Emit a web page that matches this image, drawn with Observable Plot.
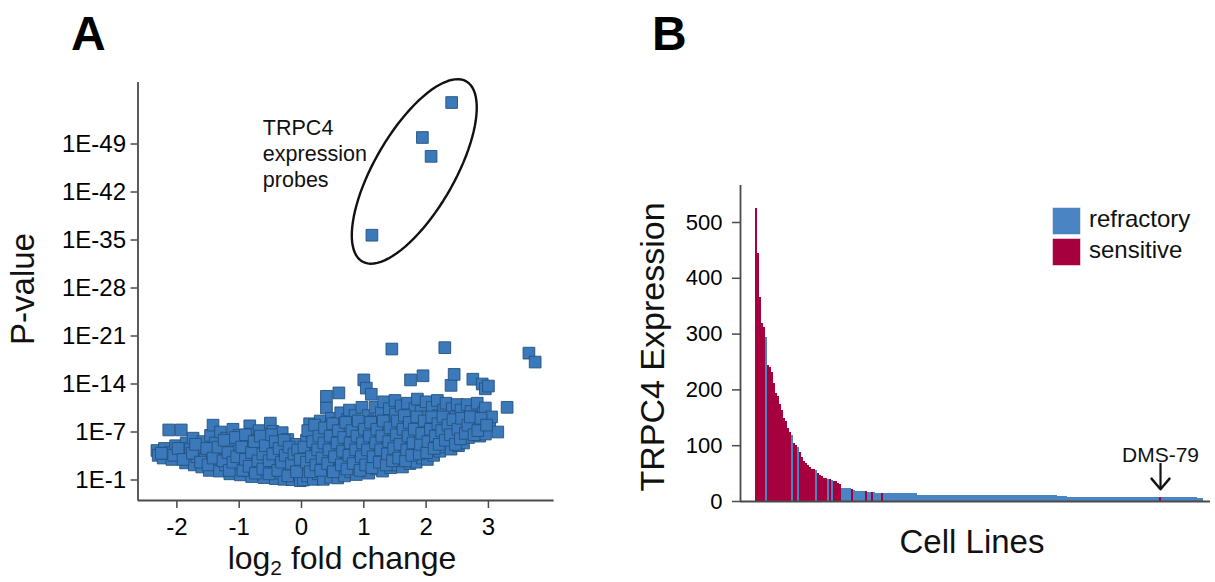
<!DOCTYPE html>
<html>
<head>
<meta charset="utf-8">
<script src="https://cdn.jsdelivr.net/npm/d3@7"></script>
<script src="https://cdn.jsdelivr.net/npm/@observablehq/plot@0.6"></script>
<style>
  html, body { margin: 0; padding: 0; background: #fff; }
  #wrap { position: relative; width: 1215px; height: 582px; overflow: hidden; }
  #wrap > svg { position: absolute; top: 0; }
</style>
</head>
<body>
<div id="wrap"></div>
<script>
// ---------------- DATA ----------------
// Panel A: volcano plot (log2 fold change, position on the P-value axis)
const foldTicks = [-2, -1, 0, 1, 2, 3];
const pTickPos = [0, 7, 14, 21, 28, 35, 42, 49];
const pTickLabels = ["1E-1", "1E-7", "1E-14", "1E-21", "1E-28", "1E-35", "1E-42", "1E-49"];

const probes = [
  [-2.32,4.3],[-2.30,3.6],[-2.22,3.2],[-2.20,4.6],[-2.18,3.9],
  [-2.13,7.3],[-2.10,4.0],[-2.08,3.0],[-2.02,5.0],[-1.93,7.3],[-1.95,4.2],[-1.86,2.5],[-1.85,5.4],[-1.80,3.5],[-1.78,4.6],
  [-1.74,6.1],[-1.72,2.2],[-1.68,3.4],[-1.65,4.8],[-1.60,1.9],[-1.58,5.6],[-1.55,3.0],
  [-1.48,1.4],[-1.46,6.5],[-1.45,4.2],[-1.42,8.0],[-1.40,2.6],[-1.38,5.4],[-1.35,3.6],[-1.32,1.3],[-1.30,7.0],[-1.28,4.6],
  [-1.22,2.2],[-1.20,6.1],[-1.15,0.9],[-1.13,3.2],[-1.10,7.4],[-1.08,5.2],[-1.05,1.8],[-1.02,4.2],[-1.00,6.5],[-0.98,0.75],[-0.95,2.8],[-0.92,5.6],
  [-0.88,3.8],[-0.86,1.4],[-0.83,7.9],[-0.82,6.7],[-0.80,0.5],[-0.78,4.8],[-0.76,2.4],[-0.72,5.8],[-0.70,3.4],[-0.68,7.2],[-0.66,1.2],[-0.64,4.4],
  [-0.60,0.35],[-0.58,2.2],[-0.56,6.2],[-0.54,3.2],[-0.50,8.3],[-0.50,5.1],[-0.48,1.2],[-0.46,7.1],[-0.44,4.2],[-0.42,0.2],[-0.40,2.4],[-0.38,6.0],
  [-0.35,3.4],[-0.33,1.0],[-0.31,6.9],[-0.30,5.0],[-0.28,0.1],[-0.26,2.0],[-0.24,4.2],[-0.22,5.9],[-0.20,1.0],[-0.18,3.0],[-0.15,0.05],[-0.13,4.8],
  [-0.10,2.0],[-0.08,5.2],[-0.06,3.6],[-0.04,0.8],[-0.02,-0.1],[0.00,2.4],[0.00,4.3],
  [0.03,0.0],[0.05,1.8],[0.06,3.8],[0.08,5.8],[0.10,0.6],[0.12,2.8],[0.13,8.2],[0.15,4.7],[0.17,6.9],[0.19,0.1],[0.20,1.8],
  [0.22,3.6],[0.24,7.8],[0.25,5.4],[0.27,0.9],[0.29,2.7],[0.30,8.6],[0.32,4.4],[0.34,6.5],[0.35,0.1],
  [0.38,1.8],[0.40,10.5],[0.40,12.2],[0.41,3.4],[0.43,7.6],[0.45,5.2],[0.47,0.4],[0.48,9.0],[0.50,2.4],[0.52,6.4],[0.54,4.2],
  [0.56,8.3],[0.58,0.3],[0.60,12.7],[0.60,1.4],[0.62,3.0],[0.63,9.8],[0.65,5.6],[0.67,7.4],[0.69,0.6],[0.70,2.2],[0.72,4.2],
  [0.74,8.8],[0.75,6.2],[0.77,10.2],[0.79,1.2],[0.80,3.2],[0.82,5.0],[0.84,7.6],[0.86,9.4],[0.88,0.8],[0.90,2.4],[0.92,4.4],
  [0.93,6.6],[0.95,8.4],[0.97,10.6],[0.99,1.6],[1.00,14.6],[1.00,3.4],[1.02,5.6],[1.04,13.4],[1.05,7.4],[1.07,9.4],[1.08,1.0],
  [1.10,2.6],[1.12,12.5],[1.12,4.6],
  [1.14,6.6],[1.16,8.6],[1.18,10.6],[1.20,1.6],[1.22,3.6],[1.24,5.6],[1.26,7.6],[1.28,9.8],[1.30,1.3],[1.32,11.4],[1.33,2.8],
  [1.35,4.6],[1.37,6.6],[1.39,8.6],[1.41,10.4],[1.43,1.8],[1.45,19.1],[1.45,3.6],[1.47,5.6],[1.49,7.6],[1.50,11.6],[1.51,9.6],
  [1.53,2.2],[1.55,4.2],[1.57,6.4],[1.59,8.4],[1.60,10.8],[1.62,1.9],[1.64,3.4],[1.66,5.4],[1.68,7.4],[1.70,11.2],[1.72,9.4],
  [1.74,2.4],[1.75,14.6],[1.76,4.6],[1.78,6.4],[1.80,8.6],[1.82,10.4],[1.84,2.6],[1.86,11.8],[1.87,4.0],[1.88,6.0],[1.90,8.0],
  [1.92,10.0],[1.94,3.2],[1.95,15.2],[1.96,5.2],[1.98,7.2],[2.00,11.4],[2.00,9.2],
  [2.02,3.0],[2.04,4.6],[2.06,6.4],[2.08,8.4],[2.10,10.6],[2.12,3.6],[2.14,5.4],[2.16,7.4],[2.18,11.6],[2.20,9.4],[2.22,4.2],
  [2.24,6.2],[2.26,8.2],[2.28,10.2],[2.30,19.3],[2.30,4.8],[2.32,11.2],[2.34,7.0],[2.36,9.0],[2.38,5.4],[2.40,13.8],[2.40,4.5],
  [2.42,10.4],[2.44,7.8],[2.45,15.4],[2.46,6.0],[2.48,9.2],[2.50,11.0],
  [2.52,5.0],[2.54,8.2],[2.56,10.2],[2.58,6.6],[2.60,5.4],[2.62,9.0],[2.64,7.6],[2.66,11.0],[2.68,6.2],[2.70,8.4],[2.72,10.0],
  [2.74,7.0],[2.75,14.7],[2.78,9.2],[2.80,7.8],[2.82,11.2],[2.84,8.6],[2.86,6.4],[2.90,14.0],[2.92,9.8],[2.94,7.6],[2.95,13.3],
  [2.95,10.5],[2.95,6.7],[3.00,13.7],[3.02,8.6],[3.05,9.2],[3.15,7.0],[3.30,10.6],[3.65,18.5],[3.75,17.2]
];
// additional probes filling the dense core of the cloud
const probesCore = [
  [-2.25,3.9],[-2.05,3.6],[-1.98,4.6],[-1.90,3.0],[-1.75,3.9],[-1.70,5.2],[-1.62,2.6],[-1.52,4.6],[-1.50,2.2],[-1.42,3.2],
  [-1.34,4.8],[-1.26,2.8],[-1.24,5.8],[-1.18,4.0],[-1.16,1.4],[-1.10,2.6],[-1.06,6.2],[-1.04,3.4],[-0.96,4.8],[-0.94,1.4],
  [-0.90,6.6],[-0.90,3.0],[-0.84,2.0],[-0.80,4.0],[-0.76,5.6],[-0.74,1.0],[-0.70,2.8],[-0.66,6.4],[-0.62,3.8],[-0.62,1.6],
  [-0.58,5.0],[-0.52,0.9],[-0.52,2.8],[-0.48,6.6],[-0.46,3.8],[-0.42,5.6],[-0.38,1.4],[-0.36,4.6],[-0.32,2.6],[-0.28,5.8],
  [-0.26,3.6],[-0.22,0.6],[-0.20,4.8],[-0.16,2.4],[-0.12,3.8],[-0.08,1.2],[-0.06,4.4],[-0.02,3.0],
  [0.04,4.8],[0.08,2.6],[0.10,7.2],[0.14,1.2],[0.16,3.4],[0.18,5.6],[0.21,8.0],[0.23,2.2],[0.26,4.4],[0.28,6.4],
  [0.31,1.4],[0.33,3.2],[0.36,5.4],[0.37,7.6],[0.42,2.4],[0.44,4.4],[0.46,6.4],[0.50,8.2],[0.51,1.2],[0.53,3.4],
  [0.57,5.4],[0.59,7.2],[0.64,2.2],[0.66,4.2],[0.68,6.2],[0.71,8.4],[0.73,1.6],[0.76,3.6],[0.78,5.4],[0.81,7.2],
  [0.83,2.4],[0.87,4.4],[0.89,6.4],[0.91,8.6],[0.94,1.4],[0.96,3.4],[0.98,5.4],[1.01,7.4],[1.03,2.2],[1.06,4.4],
  [1.09,6.4],[1.11,8.4],[1.13,1.8],[1.15,3.4],[1.19,5.4],[1.21,7.4],[1.25,2.6],[1.27,4.4],[1.29,6.4],[1.31,8.6],
  [1.36,2.2],[1.38,3.8],[1.40,5.6],[1.42,7.6],[1.46,2.8],[1.48,4.6],[1.52,6.6],[1.54,8.6],[1.56,3.2],[1.58,5.2],
  [1.63,7.4],[1.65,9.4],[1.67,2.8],[1.69,4.4],[1.71,6.4],[1.73,8.4],[1.77,3.6],[1.79,5.4],[1.81,7.4],[1.85,9.2],
  [1.89,3.8],[1.91,5.2],[1.93,6.8],[1.97,8.6],[2.01,4.0],[2.03,5.6],[2.07,7.4],[2.09,9.2],[2.13,4.6],[2.15,6.4],
  [2.19,8.2],[2.21,5.2],[2.25,7.2],[2.27,9.2],[2.31,5.8],[2.35,8.0],[2.39,6.6],[2.43,8.8],[2.47,5.2],[2.51,7.4],
  [2.55,6.0],[2.57,9.0],[2.63,6.8],[2.67,8.0],[2.71,9.2],[2.77,6.6],[2.83,7.2],[2.88,9.0],[2.97,8.0]
];
const trpc4Probes = [[2.41,55.05],[1.94,49.95],[2.08,47.2],[1.13,35.7]];
const trpc4Label = "TRPC4\nexpression\nprobes";

// Panel B: TRPC4 expression per cell line, sorted
const expression = [
  525,444,365,319,312,294,244,240,231,212,
  193,188,174,163,149,143,131,124,118,104,
  101,97,88,79,72,68,64,61,58,57,
  55,50,47,44,42,41,39,39,38,36,
  35,33,30,24,23.5,23,22.8,22.5,22,19,
  18.8,18.6,18.4,18.2,18,17.5,16,15.8,15.6,15.4,
  15.2,15.0,14.8,14.6,14.4,14.3,14.2,14.1,14.0,14.0,
  13.9,13.9,13.8,13.8,13.8,13.7,13.7,13.7,13.6,13.6,
  13.6,11.2,11.2,11.1,11.1,11.1,11.0,11.0,11.0,11.0,
  10.9,10.9,10.9,10.9,10.9,10.8,10.8,10.8,10.8,10.8,
  10.8,10.7,10.7,10.7,10.7,10.7,10.7,10.6,10.6,10.6,
  10.6,10.6,10.6,10.6,10.5,10.5,10.5,10.5,10.5,10.5,
  10.5,10.5,10.4,10.4,10.4,10.4,10.4,10.4,10.4,10.4,
  10.4,10.3,10.3,10.3,10.3,10.3,10.3,10.3,10.3,10.3,
  10.3,10.3,10.2,10.2,10.2,10.2,10.2,10.2,10.2,10.2,
  10.2,8.2,8.2,8.1,8.1,8.1,8.0,8.0,8.0,8.0,
  8.0,7.9,7.9,7.9,7.9,7.9,7.9,7.8,7.8,7.8,
  7.8,7.8,7.8,7.8,7.8,7.7,7.7,7.7,7.7,7.7,
  7.7,7.7,7.7,7.6,7.6,7.6,7.6,7.6,7.6,7.6,
  7.6,7.5,7.5,7.5,7.5,7.5,7.5,7.5,7.5,7.5,
  7.4,7.4,7.4,7.4,7.4,7.4,7.4,7.4,7.3,7.3,
  7.3,7.3,7.3,7.3,7.3,7.3,7.2,7.2,7.2,7.2,
  7.2,6.0,5.4,5.0
];
// S = sensitive, R = refractory (one letter per cell line, 10 per chunk)
const responseCode = [
  "SSSSSRSSSS","SSSSSSSSRS","SRSSSSSSSS","RSSSSSRSRS",
  "SSSRRRRRSR","RRRRRSRRSR","RRRSRRRRRR","RRRRRRRRRR",
  "RRRRRRRRRR","RRRRRRRRRR","RRRRRRRRRR","RRRRRRRRRR",
  "RRRRRRRRRR","RRRRRRRRRR","RRRRRRRRRR","RRRRRRRRRR",
  "RRRRRRRRRR","RRRRRRRRRR","RRRRRRRRRR","RRRRRRRRRR",
  "RRSRRRRRRR","RRRRRRRRRR","RRRR"
].join("");
const responseNames = {S: "sensitive", R: "refractory"};
const responseOrder = ["refractory", "sensitive"];
const expressionTicks = [0, 100, 200, 300, 400, 500];
const dms79 = {label: "DMS-79", index: 202};

// ---------------- STYLE ----------------
const FONT = "'Liberation Sans', Arial, Helvetica, sans-serif";
const AXIS = "#4a4a4a";
const SQUARE_FILL = "#3b79ba";
const SQUARE_STROKE = "#24527f";
const BLUE = "#4a84c2";
const RED = "#a6003f";

// ---------------- PANEL A ----------------
const xDomA = [-2.624, 4.054], yDomA = [-2.99, 57.97];
const WA = 560, HA = 582, mlA = 137.5, mrA = 6.4, mtA = 82, mbA = 82;
const pxPerX = (WA - mlA - mrA) / (xDomA[1] - xDomA[0]);
const pxPerY = (HA - mtA - mbA) / (yDomA[1] - yDomA[0]);
// ellipse annotation around TRPC4 probes (center in data units, radii in px)
const ellCenter = {fc: 1.81, p: 45};
const ELL_A = 104, ELL_B = 40, ELL_ANGLE = -60 * Math.PI / 180;
const ellipsePts = d3.range(0, 361, 4).map(deg => {
  const t = deg * Math.PI / 180;
  const ux = ELL_A * Math.cos(t) * Math.cos(ELL_ANGLE) - ELL_B * Math.sin(t) * Math.sin(ELL_ANGLE);
  const uy = ELL_A * Math.cos(t) * Math.sin(ELL_ANGLE) + ELL_B * Math.sin(t) * Math.cos(ELL_ANGLE);
  return {x: ellCenter.fc + ux / pxPerX, y: ellCenter.p - uy / pxPerY};
});

const squareStyle = {x: d => d[0], y: d => d[1], symbol: "square", r: 6.6, fill: SQUARE_FILL, stroke: SQUARE_STROKE, strokeWidth: 0.9};
const plotA = Plot.plot({
  width: WA, height: HA,
  marginLeft: mlA, marginRight: mrA, marginTop: mtA, marginBottom: mbA,
  x: {domain: xDomA},
  y: {domain: yDomA},
  style: {fontFamily: FONT, fontSize: "24px", color: "#000", background: "transparent", overflow: "visible"},
  marks: [
    Plot.axisX({ticks: foldTicks, tickFormat: d => String(d), tickSize: 8, tickPadding: 9, label: null, stroke: AXIS, strokeWidth: 1.5}),
    Plot.axisY({ticks: pTickPos, tickFormat: d => pTickLabels[pTickPos.indexOf(d)], tickSize: 7, tickPadding: 5, label: null, stroke: AXIS, strokeWidth: 1.5}),
    Plot.ruleX([xDomA[0]], {stroke: AXIS, strokeWidth: 1.8}),
    Plot.ruleY([yDomA[0]], {stroke: AXIS, strokeWidth: 1.8}),
    Plot.dot(probes, squareStyle),
    Plot.dot(probesCore, squareStyle),
    Plot.dot(trpc4Probes, squareStyle),
    Plot.line(ellipsePts, {x: "x", y: "y", stroke: "#111", strokeWidth: 2.4}),
    Plot.text([trpc4Label], {x: () => -0.62, y: () => 47.8, text: d => d, textAnchor: "start", lineAnchor: "middle", lineHeight: 1.21, fontSize: 21.5, fill: "#111"})
  ]
});
plotA.style.left = "0px";

// ---------------- PANEL B ----------------
const bars = expression.map((v, i) => ({i, value: v, response: responseNames[responseCode[i] || "R"]}));
const xDomB = [-7.5, 227.5], yDomB = [0, 566.3];
const dmsX = dms79.index + 0.5;
// arrowhead wings: 4.5 bars to each side, ~18 expression units above the tip
const arrowV = [{x: dmsX - 4.5, y: 41}, {x: dmsX, y: 22}, {x: dmsX + 4.5, y: 41}];
const plotB = Plot.plot({
  width: 655, height: 582,
  marginLeft: 180, marginRight: 5, marginTop: 185, marginBottom: 81,
  x: {domain: xDomB, axis: null},
  y: {domain: yDomB},
  color: {domain: responseOrder, range: [BLUE, RED]},
  style: {fontFamily: FONT, fontSize: "22px", color: "#000", background: "transparent", overflow: "visible"},
  marks: [
    Plot.rect(bars, {x1: "i", x2: d => d.i + 1, y1: () => 0, y2: "value", fill: "response", shapeRendering: "crispEdges"}),
    Plot.axisY({ticks: expressionTicks, tickSize: 8, tickPadding: 10, label: null, stroke: AXIS, strokeWidth: 1.5}),
    Plot.ruleX([xDomB[0]], {stroke: AXIS, strokeWidth: 1.8}),
    Plot.ruleY([0], {stroke: AXIS, strokeWidth: 1.8}),
    Plot.ruleX([dms79], {x: () => dmsX, y1: () => 68, y2: () => 23, stroke: "#111", strokeWidth: 2.2}),
    Plot.line(arrowV, {x: "x", y: "y", stroke: "#111", strokeWidth: 2.4}),
    Plot.text([dms79], {x: () => dmsX, y: () => 71, text: "label", lineAnchor: "bottom", fontSize: 21, fill: "#111"})
  ]
});
plotB.style.left = "560px";

const wrap = document.getElementById("wrap");
wrap.appendChild(plotA);
wrap.appendChild(plotB);

// ---------------- TITLES, PANEL LETTERS, LEGEND ----------------
const ns = "http://www.w3.org/2000/svg";
const over = document.createElementNS(ns, "svg");
over.setAttribute("width", 1215); over.setAttribute("height", 582);
over.setAttribute("style", "position:absolute;left:0;top:0;pointer-events:none;font-family:" + FONT);
function txt(str, attrs, parent = over) {
  const t = document.createElementNS(ns, "text");
  for (const k in attrs) t.setAttribute(k, attrs[k]);
  t.textContent = str; parent.appendChild(t); return t;
}
txt("A", {x: 71, y: 50, "font-size": 48, "font-weight": "bold", fill: "#000"});
txt("B", {x: 652, y: 50, "font-size": 48, "font-weight": "bold", fill: "#000"});
txt("P-value", {transform: "translate(34,289) rotate(-90)", "text-anchor": "middle", "font-size": 33, fill: "#111"});
const xl = txt("", {x: 342, y: 569, "text-anchor": "middle", "font-size": 32, fill: "#111"});
const s1 = document.createElementNS(ns, "tspan"); s1.textContent = "log"; xl.appendChild(s1);
const s2 = document.createElementNS(ns, "tspan"); s2.textContent = "2"; s2.setAttribute("font-size", 21); s2.setAttribute("dy", 6); xl.appendChild(s2);
const s3 = document.createElementNS(ns, "tspan"); s3.textContent = " fold change"; s3.setAttribute("dy", -6); xl.appendChild(s3);
txt("TRPC4 Expression", {transform: "translate(664,347) rotate(-90)", "text-anchor": "middle", "font-size": 34, fill: "#111"});
txt("Cell Lines", {x: 972, y: 553, "text-anchor": "middle", "font-size": 33, fill: "#111"});
// legend
const legendItems = [{name: "refractory", color: BLUE, y: 208}, {name: "sensitive", color: RED, y: 239}];
for (const it of legendItems) {
  const r = document.createElementNS(ns, "rect");
  r.setAttribute("x", 1053); r.setAttribute("y", it.y); r.setAttribute("width", 27); r.setAttribute("height", 26);
  r.setAttribute("fill", it.color); r.setAttribute("stroke", it.color); r.setAttribute("stroke-opacity", 0.5);
  over.appendChild(r);
  txt(it.name, {x: 1089, y: it.y + 19, "font-size": 24, fill: "#111"});
}
wrap.appendChild(over);
</script>
</body>
</html>
